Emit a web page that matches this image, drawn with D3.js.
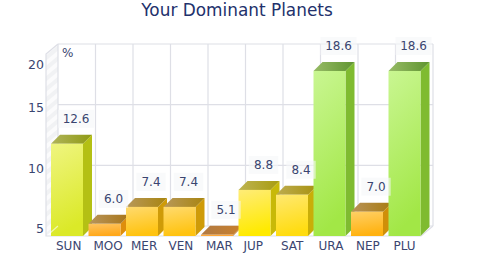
<!DOCTYPE html>
<html><head><meta charset="utf-8">
<script src="https://cdn.jsdelivr.net/npm/d3@7/dist/d3.min.js"></script>
<style>html,body{margin:0;padding:0;background:#fff}svg{display:block}text{font-family:"DejaVu Sans",sans-serif}</style>
</head><body><svg id="c" width="480" height="260"></svg>
<script>
const categories=["SUN","MOO","MER","VEN","MAR","JUP","SAT","URA","NEP","PLU"];
const values=[12.6,6.0,7.4,7.4,5.1,8.8,8.4,18.6,7.0,18.6];
const yTicks=[5,10,15,20];
const frontLight=["#eff580","#ffc460","#ffda6e","#ffda6e","#ffb860","#ffec78","#ffe870","#c9f692","#ffd066","#c9f692"];
const frontDark=["#dbe928","#ffa81a","#ffc310","#ffc310","#ff9f20","#ffea00","#ffdc10","#a2e746","#ffb210","#a2e746"];
const sideCol=["#b4c014","#de8e0c","#cf9b08","#cf9b08","#c07820","#c8b908","#c9ae08","#7fbb30","#cf8f08","#7fbb30"];
const roofLeft=["#b0b45a","#b8955c","#b8985a","#b8985a","#b07a44","#bdb352","#bdac50","#97bb66","#b8925a","#97bb66"];
const roofRight=["#8f9a14","#a87518","#a88510","#a88510","#c9802c","#a89c10","#a89210","#5f9430","#a87c10","#5f9430"];

const svg=d3.select("#c");
const dx=12,dy=10,barW=32,ink="#3a4570",grid="#dedfe6";
const x=d3.scaleBand().domain(categories).range([46,421]);
const y=d3.scaleLinear().domain([5,20]).range([236,54]);
const step=x.step();

const defs=svg.append("defs");
const hatch=defs.append("pattern").attr("id","hatch").attr("width",8).attr("height",8)
 .attr("patternUnits","userSpaceOnUse").attr("patternTransform","rotate(-40)");
hatch.append("rect").attr("width",8).attr("height",8).attr("fill","#fbfbfc");
hatch.append("rect").attr("width",8).attr("height",4).attr("fill","#f1f2f4");
categories.forEach((c,i)=>{
  const f=defs.append("linearGradient").attr("id","f"+i).attr("x1",0).attr("y1",0).attr("x2",0.2).attr("y2",1);
  f.append("stop").attr("offset",0).attr("stop-color",frontLight[i]);
  f.append("stop").attr("offset",1).attr("stop-color",frontDark[i]);
  const r=defs.append("linearGradient").attr("id","r"+i).attr("x1",0).attr("y1",0).attr("x2",1).attr("y2",0);
  r.append("stop").attr("offset",0).attr("stop-color",roofLeft[i]);
  r.append("stop").attr("offset",1).attr("stop-color",roofRight[i]);
});

svg.append("text").attr("x",237).attr("y",16).attr("text-anchor","middle")
 .attr("font-size",16.9).attr("fill","#22316c").text("Your Dominant Planets");

const x0=x.range()[0],x1=x.range()[1],yB=y(5),yT=y(20);
svg.append("polygon").attr("points",[[x0,yB],[x0+dx,yB-dy],[x0+dx,yT-dy],[x0,yT]].join(" ")).attr("fill","url(#hatch)");
svg.append("polygon").attr("points",[[x0,yB],[x1,yB],[x1+dx,yB-dy],[x0+dx,yB-dy]].join(" ")).attr("fill","#fdfdfe");
const gridG=svg.append("g").attr("stroke",grid).attr("stroke-width",1.2).attr("fill","none");
yTicks.forEach(t=>{
  gridG.append("line").attr("x1",x0+dx).attr("x2",x1+dx).attr("y1",y(t)-dy).attr("y2",y(t)-dy);
});
d3.range(categories.length+1).forEach(i=>{
  const gx=x0+dx+i*step;
  gridG.append("line").attr("x1",gx).attr("x2",gx).attr("y1",yT-dy).attr("y2",yB-dy);
});
gridG.append("polyline").attr("points",[[x0+dx,yT-dy],[x0,yT],[x0,yB],[x1,yB],[x1+dx,yB-dy]].join(" "));

categories.forEach((c,i)=>{
  const l=x(c)+5,r=l+barW,t=y(values[i]),b=y(5),d=9;
  const g=svg.append("g");
  g.append("polygon").attr("points",[[r,t],[r+d,t-d],[r+d,b-d],[r,b]].join(" ")).attr("fill",sideCol[i]);
  g.append("polygon").attr("points",[[l,t],[l+d,t-d],[r+d,t-d],[r,t]].join(" ")).attr("fill",`url(#r${i})`);
  g.append("rect").attr("x",l).attr("y",t).attr("width",barW).attr("height",b-t).attr("fill",`url(#f${i})`);
});
svg.append("line").attr("x1",x0+4).attr("y1",yB-3).attr("x2",x0+dx).attr("y2",yB-dy)
 .attr("stroke","#fff").attr("stroke-opacity",0.6).attr("stroke-width",1.2);

const yLabelShift={5:-3.5,10:-2.5,15:-2.5,20:14.5};
svg.append("g").selectAll("text").data(yTicks).join("text")
 .attr("x",44).attr("y",d=>y(d)+yLabelShift[d]).attr("text-anchor","end")
 .attr("font-size",12.5).attr("fill",ink).text(d=>d);
svg.append("text").attr("x",62).attr("y",57).attr("font-size",12).attr("fill",ink).text("%");

svg.append("g").selectAll("text").data(categories).join("text")
 .attr("x",d=>x(d)+10).attr("y",250).attr("font-size",12).attr("fill",ink).text(d=>d);

const vg=svg.append("g");
categories.forEach((c,i)=>{
  const cx=x(c)+30,cy=y(values[i])-25,s=values[i].toFixed(1);
  const w=s.length*6.8+9;
  vg.append("rect").attr("x",cx-w/2).attr("y",cy-9).attr("width",w).attr("height",18)
   .attr("fill","#f5f6f8").attr("fill-opacity",0.6);
  vg.append("text").attr("x",cx).attr("y",cy+4.5).attr("text-anchor","middle")
   .attr("font-size",12).attr("fill",ink).text(s);
});
</script></body></html>
